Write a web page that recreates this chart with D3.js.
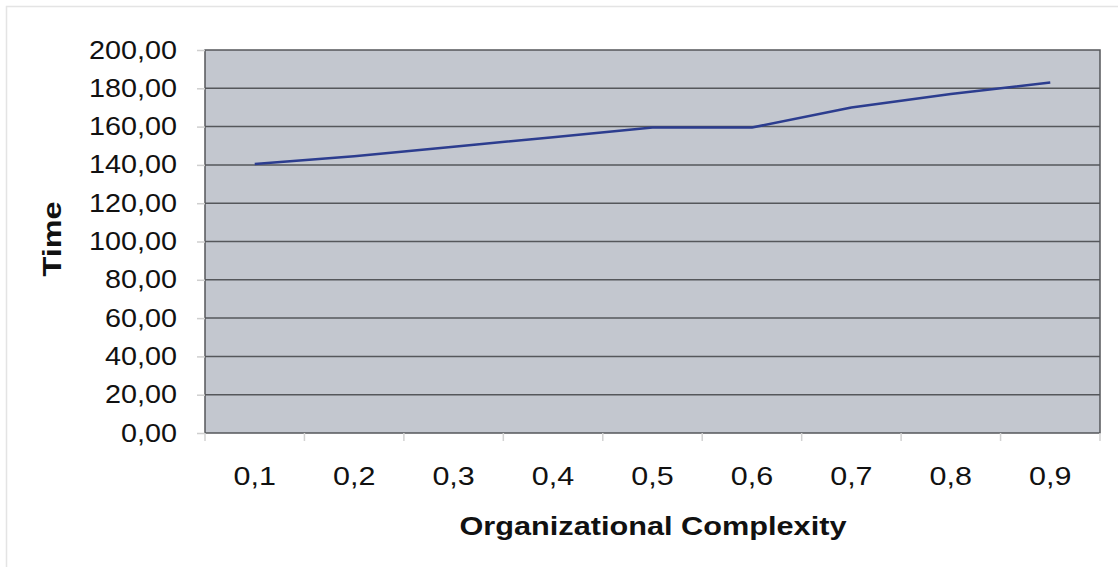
<!DOCTYPE html>
<html>
<head>
<meta charset="utf-8">
<script src="https://cdn.jsdelivr.net/npm/d3@7/dist/d3.min.js"></script>
<style>
  html, body { margin: 0; padding: 0; background: #ffffff; }
  svg { display: block; }
  text { font-family: "Liberation Sans", Arial, sans-serif; fill: #111; }
</style>
</head>
<body>
<svg id="chart" width="1118" height="567"></svg>
<script>
// Time versus organizational complexity
const categories = ["0,1", "0,2", "0,3", "0,4", "0,5", "0,6", "0,7", "0,8", "0,9"];
const timeValues = [140.5, 144.5, 149.5, 154.5, 159.5, 159.5, 170.0, 177.0, 183.0];
const yTicks = [0, 20, 40, 60, 80, 100, 120, 140, 160, 180, 200];

const svg = d3.select("#chart");
const margin = { left: 205, right: 18, top: 50, bottom: 134 };
const W = 1118, H = 567;
const innerW = W - margin.left - margin.right;
const innerH = H - margin.top - margin.bottom;

// widen glyphs horizontally by a factor (the chart uses a broad sans face)
function widen(sel, k) {
  sel.each(function () {
    const w = this.getComputedTextLength();
    d3.select(this).attr("textLength", w * k).attr("lengthAdjust", "spacingAndGlyphs");
  });
}

// outer chart frame (top and left edges)
svg.append("path")
  .attr("d", `M6.5,${H} V6.5 H${W}`)
  .attr("fill", "none")
  .attr("stroke", "#e4e4e4").attr("stroke-width", 1.5);

const g = svg.append("g").attr("transform", `translate(${margin.left},${margin.top})`);

const x = d3.scaleBand().domain(categories).range([0, innerW]).padding(0);
const y = d3.scaleLinear().domain([0, 200]).range([innerH, 0]);

// plot area
g.append("rect")
  .attr("width", innerW).attr("height", innerH)
  .attr("fill", "#c3c7cf");

// horizontal gridlines
g.append("g")
  .selectAll("line")
  .data(yTicks.filter(d => d > 0 && d < 200))
  .join("line")
  .attr("x1", 0).attr("x2", innerW)
  .attr("y1", d => y(d)).attr("y2", d => y(d))
  .attr("stroke", "#55575b").attr("stroke-width", 1.5);

// plot border
g.append("rect")
  .attr("width", innerW).attr("height", innerH)
  .attr("fill", "none")
  .attr("stroke", "#55575b").attr("stroke-width", 1.5);

// y axis
const yAxis = d3.axisLeft(y)
  .tickValues(yTicks)
  .tickSize(8)
  .tickPadding(20)
  .tickFormat(d => d3.format(".2f")(d).replace(".", ","));
const yg = g.append("g").call(yAxis);
yg.select(".domain").remove();
yg.selectAll(".tick line").attr("stroke", "#cfcfcf").attr("stroke-width", 1.5);
yg.selectAll(".tick text")
  .attr("font-size", 25).attr("fill", "#111")
  .attr("font-family", "Liberation Sans, Arial, sans-serif")
  .call(widen, 1.15);

// x axis: ticks on category boundaries, labels centred in bands
const bounds = categories.map(c => x(c)).concat([innerW]);
const xg = g.append("g").attr("transform", `translate(0,${innerH})`);
xg.selectAll("line")
  .data(bounds)
  .join("line")
  .attr("x1", d => d).attr("x2", d => d)
  .attr("y1", 0).attr("y2", 8)
  .attr("stroke", "#d2d2d2").attr("stroke-width", 1.5);
xg.selectAll("text")
  .data(categories)
  .join("text")
  .attr("x", d => x(d) + x.bandwidth() / 2)
  .attr("y", 52)
  .attr("text-anchor", "middle")
  .attr("font-size", 25)
  .text(d => d)
  .call(widen, 1.22);

// data line
const line = d3.line()
  .x((d, i) => x(categories[i]) + x.bandwidth() / 2)
  .y(d => y(d));
g.append("path")
  .datum(timeValues)
  .attr("d", line)
  .attr("fill", "none")
  .attr("stroke", "#2c3d8f")
  .attr("stroke-width", 2.5)
  .attr("stroke-linejoin", "round");

// axis titles
svg.append("text")
  .attr("x", 653)
  .attr("y", 535)
  .attr("text-anchor", "middle")
  .attr("font-size", 26)
  .attr("font-weight", "bold")
  .text("Organizational Complexity")
  .call(widen, 1.18);

svg.append("text")
  .attr("transform", `translate(61,239) rotate(-90)`)
  .attr("text-anchor", "middle")
  .attr("font-size", 25)
  .attr("font-weight", "bold")
  .text("Time")
  .call(widen, 1.3);
</script>
</body>
</html>
